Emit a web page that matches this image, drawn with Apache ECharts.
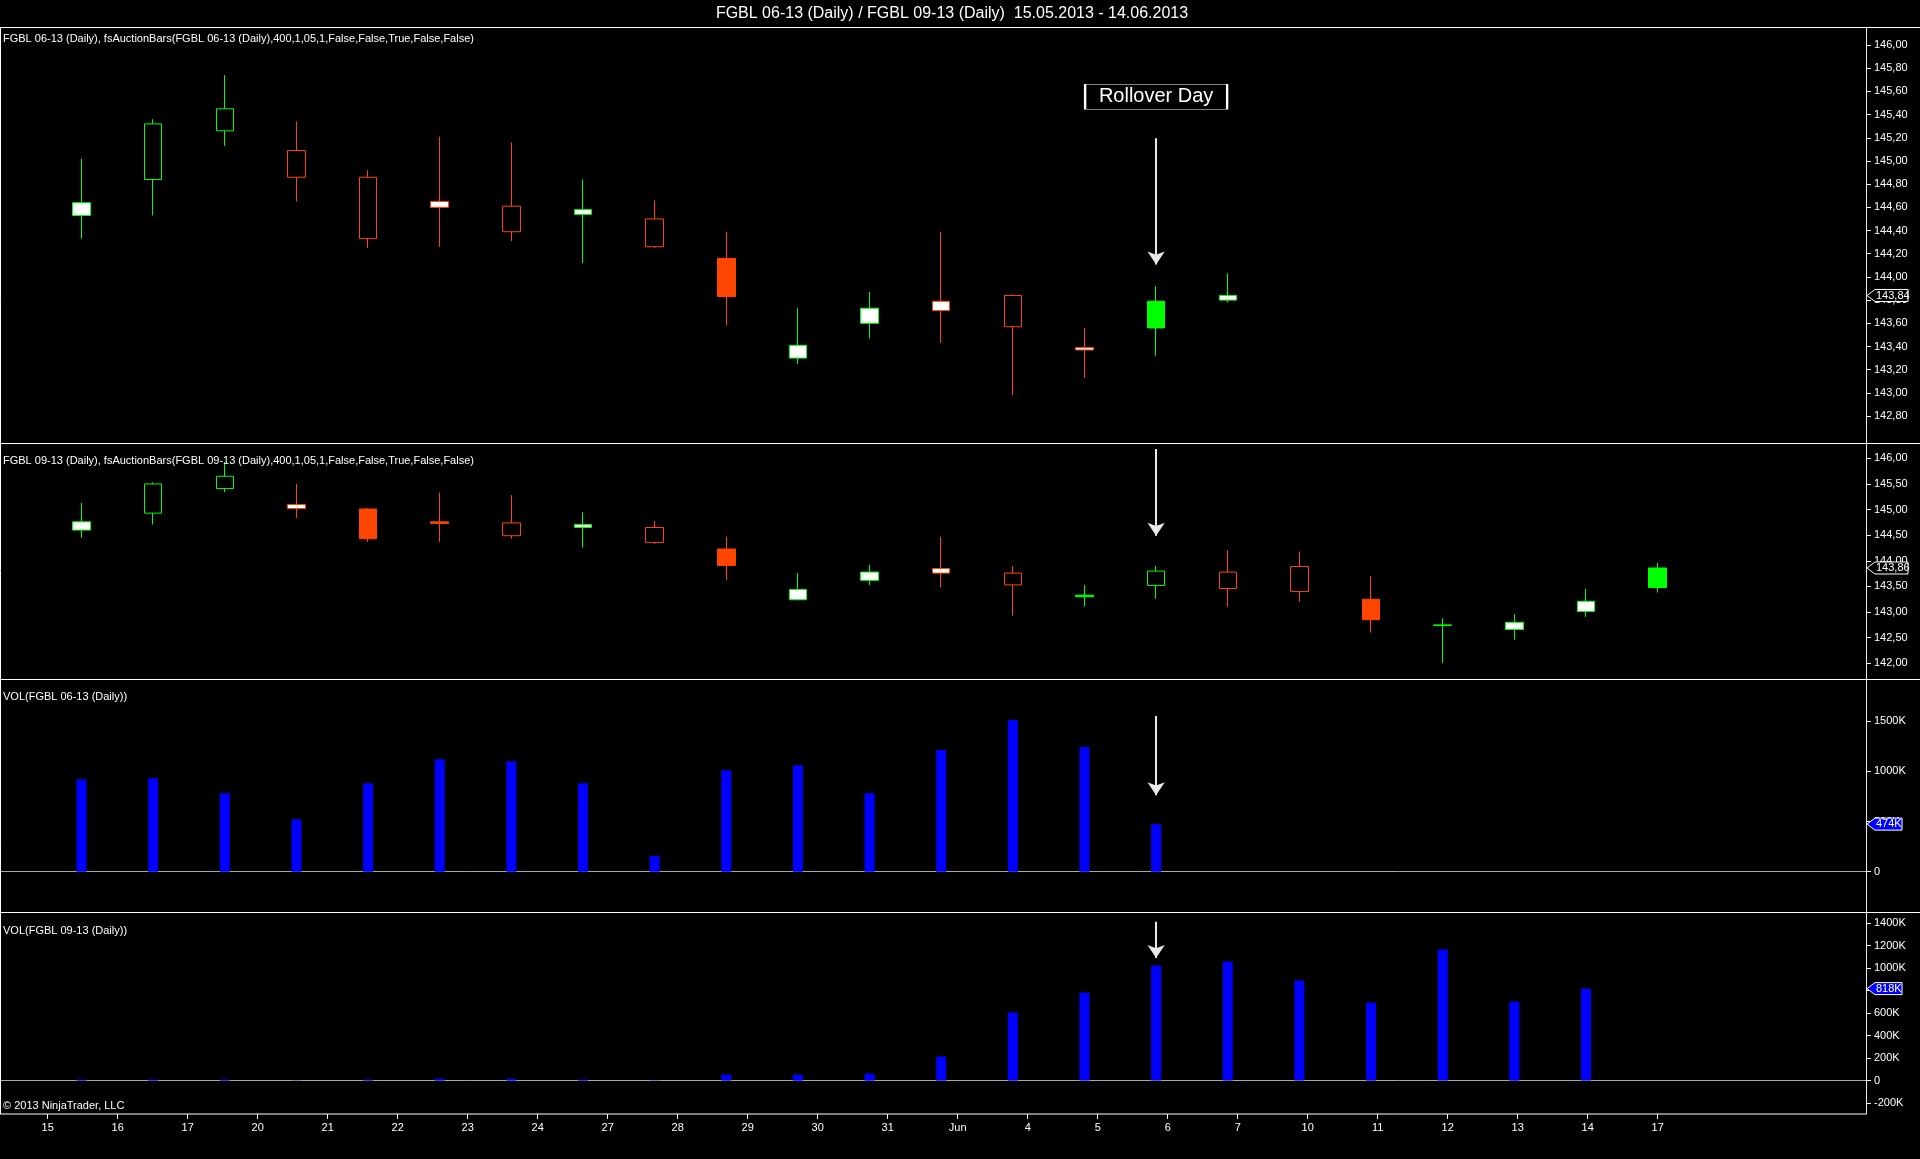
<!DOCTYPE html>
<html>
<head>
<meta charset="utf-8">
<title>FGBL 06-13 / FGBL 09-13 rollover</title>
<script src="https://cdn.jsdelivr.net/npm/echarts@6/dist/echarts.min.js"></script>
<style>
  html, body { margin: 0; padding: 0; background: #000; }
  #main { width: 1920px; height: 1159px; }
</style>
</head>
<body>
<div id="main"></div>
<script>
// trading days (one candle slot each)
const days = ['15.05', '16.05', '17.05', '20.05', '21.05', '22.05', '23.05', '24.05', '27.05', '28.05',
  '29.05', '30.05', '31.05', '03.06', '04.06', '05.06', '06.06', '07.06', '10.06', '11.06', '12.06', '13.06', '14.06']
// labels printed on the time axis
const dayLabels = ['15', '16', '17', '20', '21', '22', '23', '24', '27', '28', '29', '30', '31', 'Jun',
  '4', '5', '6', '7', '10', '11', '12', '13', '14', '17']

// FGBL 06-13
const open06  = [144.53, 144.84, 145.26, 145.09, 144.86, 144.65, 144.61, 144.54, 144.50, 144.16, 143.30, 143.60, 143.79, 143.84, 143.39, 143.56, 143.80]
const close06 = [144.64, 145.32, 145.45, 144.86, 144.33, 144.60, 144.39, 144.58, 144.26, 143.83, 143.41, 143.73, 143.71, 143.57, 143.37, 143.79, 143.84]
const low06   = [144.33, 144.53, 145.13, 144.65, 144.25, 144.26, 144.31, 144.12, 144.25, 143.58, 143.25, 143.47, 143.43, 142.98, 143.13, 143.32, 143.78]
const high06  = [145.02, 145.36, 145.74, 145.34, 144.92, 145.21, 145.16, 144.84, 144.66, 144.39, 143.73, 143.87, 144.39, 143.85, 143.56, 143.92, 144.03]
// fsAuctionBars body type: h = hollow, w = white, s = solid
const body06  = ['w', 'h', 'h', 'h', 'h', 'w', 'h', 'w', 'h', 's', 'w', 'w', 'w', 'h', 'w', 's', 'w']
// volume in K
const vol06   = [921, 931, 782, 522, 881, 1121, 1101, 881, 156, 1011, 1061, 782, 1211, 1510, 1241, 474]

// FGBL 09-13
const open09  = [144.60, 144.93, 145.41, 145.10, 145.01, 144.76, 144.74, 144.65, 144.65, 144.23, 143.24, 143.62, 143.85, 143.76, 143.30, 143.52, 143.78, 143.89, 143.25, 142.74, 142.66, 143.01, 143.48]
const close09 = [144.76, 145.50, 145.65, 145.02, 144.43, 144.73, 144.49, 144.71, 144.36, 143.91, 143.44, 143.78, 143.76, 143.53, 143.33, 143.80, 143.46, 143.40, 142.85, 142.75, 142.80, 143.21, 143.86]
const low09   = [144.45, 144.71, 145.34, 144.84, 144.37, 144.37, 144.43, 144.26, 144.33, 143.63, 143.23, 143.53, 143.48, 142.93, 143.11, 143.26, 143.11, 143.20, 142.60, 142.01, 142.46, 142.91, 143.38]
const high09  = [145.13, 145.53, 145.93, 145.50, 145.03, 145.33, 145.28, 144.95, 144.78, 144.47, 143.76, 143.92, 144.47, 143.90, 143.53, 143.90, 144.21, 144.18, 143.70, 142.88, 142.96, 143.45, 143.96]
const body09  = ['w', 'h', 'h', 'w', 's', 's', 'h', 'w', 'h', 's', 'w', 'w', 'w', 'h', 's', 'h', 'h', 'h', 's', 's', 'w', 'w', 's']
const vol09   = [9, 9, 9, 2, 9, 18, 18, 9, 2, 53, 53, 62, 214, 605, 783, 1023, 1059, 890, 694, 1166, 703, 818]

// axis ticks
const ticks06 = [142.8, 143.0, 143.2, 143.4, 143.6, 143.8, 144.0, 144.2, 144.4, 144.6, 144.8, 145.0, 145.2, 145.4, 145.6, 145.8, 146.0]
const ticks09 = [142.0, 142.5, 143.0, 143.5, 144.0, 144.5, 145.0, 145.5, 146.0]
const ticksVol06 = [0, 500, 1000, 1500]
const ticksVol09 = [-200, 0, 200, 400, 600, 800, 1000, 1200, 1400]

// rollover day and its arrows (value units of each panel)
const rolloverIdx = days.indexOf('06.06') - 1
const arrows = [[145.195, 144.108], [146.18, 144.49], [1550, 762], [1412, 1089]]

const FONT = '"Liberation Sans", Arial, sans-serif'
const GREEN = '#00ff00'
const RED = '#ff4500'
const BLUE = '#0000ff'

// panel frames (px) and value ranges
const panels = [
  { top: 27.3, bottom: 443.3, min: 142.565, max: 146.153 },
  { top: 443.3, bottom: 679, min: 141.694, max: 146.293 },
  { top: 679, bottom: 912.8, min: -409, max: 1919 },
  { top: 912.8, bottom: 1114, min: -297, max: 1492 }
]
const X_MIN = -1.138
const X_MAX = 24.909
const AXIS_X = 1866

function candles(o, c, l, h, body) {
  return o.map((v, i) => {
    const col = c[i] >= v ? GREEN : RED
    const fill = body[i] === 's' ? col : (body[i] === 'w' ? '#ffffff' : '#000000')
    return {
      name: days[i],
      value: [i, v, c[i], l[i], h[i]],
      itemStyle: { color: fill, color0: fill, borderColor: col, borderColor0: col }
    }
  })
}

function arrowLine(k) {
  return {
    silent: true,
    animation: false,
    symbol: ['none', 'arrow'],
    symbolSize: 13,
    label: { show: false },
    lineStyle: { color: '#e8e8e8', width: 2, type: 'solid' },
    data: [[{ coord: [rolloverIdx, arrows[k][0]] }, { coord: [rolloverIdx, arrows[k][1]] }]]
  }
}

const priceFmt = v => v.toFixed(2).replace('.', ',')
const volFmt = v => (v === 0 ? '0' : v + 'K')

const grids = panels.map(p => ({ left: 0, width: AXIS_X, top: p.top, height: p.bottom - p.top }))
grids.push({ left: 47.7, width: 1610, top: 1113, height: 1 })

const xAxes = panels.map((p, i) => ({
  type: 'value',
  gridIndex: i,
  min: X_MIN,
  max: X_MAX,
  show: i >= 2,
  axisLine: { show: i >= 2, onZero: true, lineStyle: { color: '#a8a8a8', width: 1 } },
  axisTick: { show: false },
  axisLabel: { show: false },
  splitLine: { show: false }
}))
xAxes.push({
  type: 'category',
  gridIndex: 4,
  data: dayLabels,
  boundaryGap: false,
  axisLine: { show: false },
  axisTick: { show: true, length: 5, lineStyle: { color: '#ffffff' } },
  axisLabel: { color: '#ffffff', fontSize: 11, fontFamily: FONT, margin: 8, interval: 0 },
  splitLine: { show: false }
})

const tickSets = [ticks06, ticks09, ticksVol06, ticksVol09]
const yAxes = panels.map((p, i) => ({
  type: 'value',
  gridIndex: i,
  position: 'right',
  min: p.min,
  max: p.max,
  axisLine: { show: true, onZero: false, lineStyle: { color: '#e6e6e6', width: 1 } },
  axisTick: { show: true, length: 5, customValues: tickSets[i], lineStyle: { color: '#ffffff' } },
  axisLabel: {
    customValues: tickSets[i],
    color: '#ffffff',
    fontSize: 11,
    fontFamily: FONT,
    margin: 8,
    formatter: i < 2 ? priceFmt : volFmt
  },
  splitLine: { show: false }
}))
yAxes.push({ type: 'value', gridIndex: 4, show: false })

const series = [
  {
    name: 'FGBL 06-13',
    type: 'candlestick',
    xAxisIndex: 0,
    yAxisIndex: 0,
    barWidth: 18,
    itemStyle: { borderWidth: 1 },
    data: candles(open06, close06, low06, high06, body06),
    markLine: arrowLine(0),
    markPoint: {
      silent: true,
      animation: false,
      symbol: 'rect',
      symbolSize: [142, 25],
      itemStyle: { color: '#000000', borderColor: '#ffffff', borderWidth: 1 },
      label: { show: true, position: 'inside', formatter: 'Rollover Day', color: '#ffffff', fontSize: 20, fontFamily: FONT },
      data: [{ coord: [rolloverIdx, 145.554] }]
    }
  },
  {
    name: 'FGBL 09-13',
    type: 'candlestick',
    xAxisIndex: 1,
    yAxisIndex: 1,
    barWidth: 18,
    itemStyle: { borderWidth: 1 },
    data: candles(open09, close09, low09, high09, body09),
    markLine: arrowLine(1)
  },
  {
    name: 'VOL 06-13',
    type: 'bar',
    xAxisIndex: 2,
    yAxisIndex: 2,
    barWidth: 10,
    itemStyle: { color: BLUE },
    data: vol06.map((v, i) => [i, v]),
    markLine: arrowLine(2)
  },
  {
    name: 'VOL 09-13',
    type: 'bar',
    xAxisIndex: 3,
    yAxisIndex: 3,
    barWidth: 10,
    itemStyle: { color: BLUE },
    data: vol09.map((v, i) => [i, v]),
    markLine: arrowLine(3)
  }
]

// frame lines and captions
function hline(y, x2) {
  return { type: 'line', shape: { x1: 0, y1: y, x2: x2, y2: y }, style: { stroke: '#ffffff', lineWidth: 1 }, z: 50 }
}
function caption(x, y, text, size, align) {
  return {
    type: 'text', x: x, y: y, z: 50,
    style: { text: text, fill: '#ffffff', font: size + 'px ' + FONT, align: align || 'left', verticalAlign: 'middle' }
  }
}

const frame = [
  caption(952, 14, 'FGBL 06-13 (Daily) / FGBL 09-13 (Daily)  15.05.2013 - 14.06.2013', 16, 'center'),
  hline(27.5, 1920),
  hline(443.5, 1920),
  hline(679.5, 1920),
  hline(912.5, 1920),
  hline(1114, AXIS_X),
  { type: 'line', shape: { x1: 0.5, y1: 27, x2: 0.5, y2: 1114 }, style: { stroke: '#ffffff', lineWidth: 1 }, z: 50 },
  caption(3, 39, 'FGBL 06-13 (Daily), fsAuctionBars(FGBL 06-13 (Daily),400,1,05,1,False,False,True,False,False)', 11),
  caption(3, 461, 'FGBL 09-13 (Daily), fsAuctionBars(FGBL 09-13 (Daily),400,1,05,1,False,False,True,False,False)', 11),
  caption(3, 697, 'VOL(FGBL 06-13 (Daily))', 11),
  caption(3, 931, 'VOL(FGBL 09-13 (Daily))', 11),
  caption(3, 1106, '\u00a9 2013 NinjaTrader, LLC', 11)
]

const chart = echarts.init(document.getElementById('main'))
chart.setOption({
  backgroundColor: '#000000',
  animation: false,
  grid: grids,
  xAxis: xAxes,
  yAxis: yAxes,
  series: series,
  graphic: frame
})

// last-value tags on the price / volume axes
function tag(yAxisIndex, value, text, fill, w) {
  const y = chart.convertToPixel({ yAxisIndex: yAxisIndex }, value)
  const x0 = AXIS_X + 1
  const x1 = x0 + w
  return [
    {
      type: 'polygon', z: 100,
      shape: { points: [[x0, y], [x0 + 8, y - 6], [x1, y - 6], [x1, y + 6], [x0 + 8, y + 6]] },
      style: { fill: fill, stroke: '#ffffff', lineWidth: 1 }
    },
    {
      type: 'text', x: x0 + 9, y: y, z: 101,
      style: { text: text, fill: '#ffffff', font: '11px ' + FONT, verticalAlign: 'middle' }
    }
  ]
}

const last06 = close06[close06.length - 1]
const last09 = close09[close09.length - 1]
const lastVol06 = vol06[vol06.length - 1]
const lastVol09 = vol09[vol09.length - 1]

chart.setOption({
  graphic: frame.concat(
    tag(0, last06, priceFmt(last06), '#000000', 41),
    tag(1, last09, priceFmt(last09), '#000000', 41),
    tag(2, lastVol06, volFmt(lastVol06), BLUE, 35),
    tag(3, lastVol09, volFmt(lastVol09), BLUE, 35)
  )
})
</script>
</body>
</html>
